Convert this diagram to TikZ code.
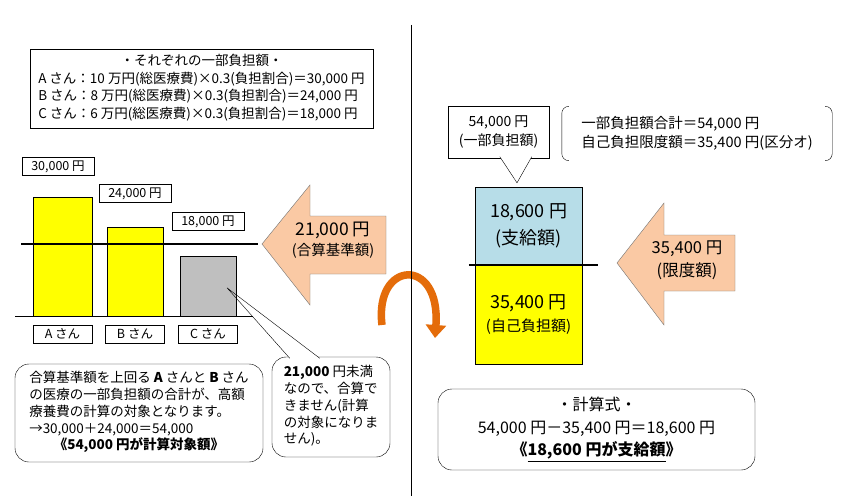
\documentclass[tikz,border=0pt]{standalone}
\usepackage{fontspec}
\setmainfont{Noto Sans CJK JP}
\usepackage{tikz}
\usetikzlibrary{positioning,arrows.meta,calc}
\definecolor{cShare}{HTML}{FFFF00}
\definecolor{cUnder}{HTML}{BFBFBF}
\definecolor{cLimit}{HTML}{FAC9A4}
\definecolor{cPaid} {HTML}{B7DDE8}
\definecolor{cTurn} {HTML}{E46C0A}
\tikzset{
  >={Stealth[length=2mm]},
  vtag/.style={draw,thin,inner sep=1pt,minimum height=18pt,minimum width=72pt,
               font=\fontsize{12.5}{15}\selectfont},
  ntag/.style={vtag,minimum width=59pt},
  sbar/.style={draw,thin,inner sep=0pt,anchor=south,minimum width=56pt,fill=cShare},
  snote/.style={draw,thin,rounded corners=14pt,inner sep=0pt,
                font=\fontsize{13.5}{16.75}\selectfont},
  sblk/.style={fill=cLimit,draw=black!55,thin},
  sturn/.style={cTurn,line width=7.5pt,-{Triangle[length=13pt,width=20pt]}},
  slim/.style={line width=2pt},
}

\begin{document}
\begin{tikzpicture}[x=1pt,y=-1pt]
  \path[fill=white,use as bounding box] (0,0) rectangle (850,500);
  % left half: each share
  \node[draw,thick,inner sep=0pt,minimum width=343pt,minimum height=79pt,
        font=\fontsize{13.5}{17.5}\selectfont] (each) at (201.5,88.5)
    {\begin{tabular}{@{}l@{}}\multicolumn{1}{@{}c@{}}{・それぞれの一部負担額・}\\
     A さん：10 万円(総医療費)×0.3(負担割合)＝30,000 円\\
     B さん：8 万円(総医療費)×0.3(負担割合)＝24,000 円\\
     C さん：6 万円(総医療費)×0.3(負担割合)＝18,000 円\end{tabular}};
  \node[sbar,minimum width=59pt,minimum height=119pt] (barA) at (62.5,316) {};
  \node[sbar,minimum height=89pt] (barB) at (135,316) {};
  \node[sbar,minimum height=60pt,fill=cUnder] (barC) at (208,316) {};
  \node[vtag,above=21pt of barA,xshift=-4.5pt] (valA) {30,000 円};
  \node[vtag,above=24pt of barB] (valB) {24,000 円};
  \node[vtag,above=25pt of barC] (valC) {18,000 円};
  \node[ntag,below=9pt of barA] (whoA) {A さん};
  \node[ntag,below=9pt of barB] (whoB) {B さん};
  \node[ntag,below=9pt of barC] (whoC) {C さん};
  \draw[thin] (15,316) -- (253,316);
  \draw[slim] (21,244) -- (258,244);
  \draw[sblk] (262,244) -- (310,185) -- (310,216) -- (386,216) -- (386,274)
    -- (310,274) -- (310,305) -- cycle;
  \node[align=center,font=\fontsize{17.5}{19.5}\selectfont] (base) at (333,240)
    {21,000 円\\{\fontsize{14.5}{19.5}\selectfont(合算基準額)}};
  % notes
  \node[snote,minimum width=248pt,minimum height=98pt] (sumnote) at (139,413)
    {\begin{tabular}{@{}l@{}}合算基準額を上回る \textbf{A} さんと \textbf{B} さん\\
     の医療の一部負担額の合計が、高額\\
     療養費の計算の対象となります。\\
     →30,000＋24,000＝54,000\\
     \multicolumn{1}{@{}c@{}}{\textbf{《54,000 円が計算対象額》}}\end{tabular}};
  \node[snote,minimum width=118pt,minimum height=100pt] (cnote) at (331,407)
    {\begin{tabular}{@{}l@{}}\textbf{21,000} 円未満\\なので、合算で\\きません(計算\\
     の対象になりま\\せん)。\end{tabular}};
  \coordinate (cpin) at ($(barC.center)+(19,2)$);
  \coordinate (cl) at ($(cnote.north west)+(18,1.5)$);
  \coordinate (cr) at ($(cnote.north west)+(48,1.5)$);
  \begin{scope}
    \clip ($(cnote.north west)+(0,-8)$) rectangle ($(cnote.north east)+(0,1.5)$);
    \fill[white] (cl) -- (cpin) -- (cr) -- cycle;
  \end{scope}
  \draw[thin] (cl) -- (cpin) -- (cr);
  % turn
  \coordinate (turnA) at (382,325);
  \coordinate (turnB) at (435,338);
  \draw[sturn] (turnA) .. controls (374,260) and (441,256) .. (turnB);
  \draw[thin] (411,25) -- (411,496);
  % right half: payment
  \node[draw,thin,fill=cPaid,inner sep=0pt,minimum width=107pt,minimum height=78pt,
        align=center,font=\fontsize{18}{27}\selectfont] (paid) at (528.5,226)
    {18,600 円\\(支給額)};
  \node[draw,thin,fill=cShare,inner sep=0pt,minimum width=107pt,minimum height=99pt,
        align=center,font=\fontsize{18}{23}\selectfont,below=0pt of paid] (own)
    {35,400 円\\{\fontsize{15}{23}\selectfont(自己負担額)}};
  \draw[slim] ($(paid.south west)+(-6,0)$) -- ($(paid.south east)+(16,0)$);
  \node[draw,thin,fill=white,inner sep=0pt,minimum width=101pt,minimum height=52pt,
        align=center,font=\fontsize{14}{19}\selectfont] (part) at (498.5,132)
    {54,000 円\\(一部負担額)};
  \coordinate (ppin) at ($(paid.north)+(-11.5,-4)$);
  \filldraw[fill=white,thin] ($(part.south west)+(52,-1.5)$) -- (ppin)
    -- ($(part.south west)+(84,-1.5)$);
  \node[align=left,inner sep=0pt,minimum width=270pt,minimum height=54pt,
        font=\fontsize{14.5}{19}\selectfont] (lsum) at (697,133.5)
    {一部負担額合計＝54,000 円\\自己負担限度額＝35,400 円(区分オ)};
  \draw[thin,rounded corners=7pt] ($(lsum.north west)+(7,0)$) -- (lsum.north west)
    -- (lsum.south west) -- ($(lsum.south west)+(7,0)$);
  \draw[thin,rounded corners=7pt] ($(lsum.north east)+(-7,0)$) -- (lsum.north east)
    -- (lsum.south east) -- ($(lsum.south east)+(-7,0)$);
  \draw[sblk] (617,263) -- (664,203) -- (664,235) -- (735,235) -- (735,291)
    -- (664,291) -- (664,325) -- cycle;
  \node[align=center,font=\fontsize{16.5}{23}\selectfont] (lim) at (687,260.5)
    {35,400 円\\(限度額)};
  \node[snote,minimum width=317pt,minimum height=81pt,align=center,
        font=\fontsize{16}{22.5}\selectfont] (calc) at (596.5,429.5)
    {・計算式・\\54,000 円－35,400 円＝18,600 円\\
     \textbf{《\underline{18,600 円が支給額}》}};
\end{tikzpicture}
\end{document}
